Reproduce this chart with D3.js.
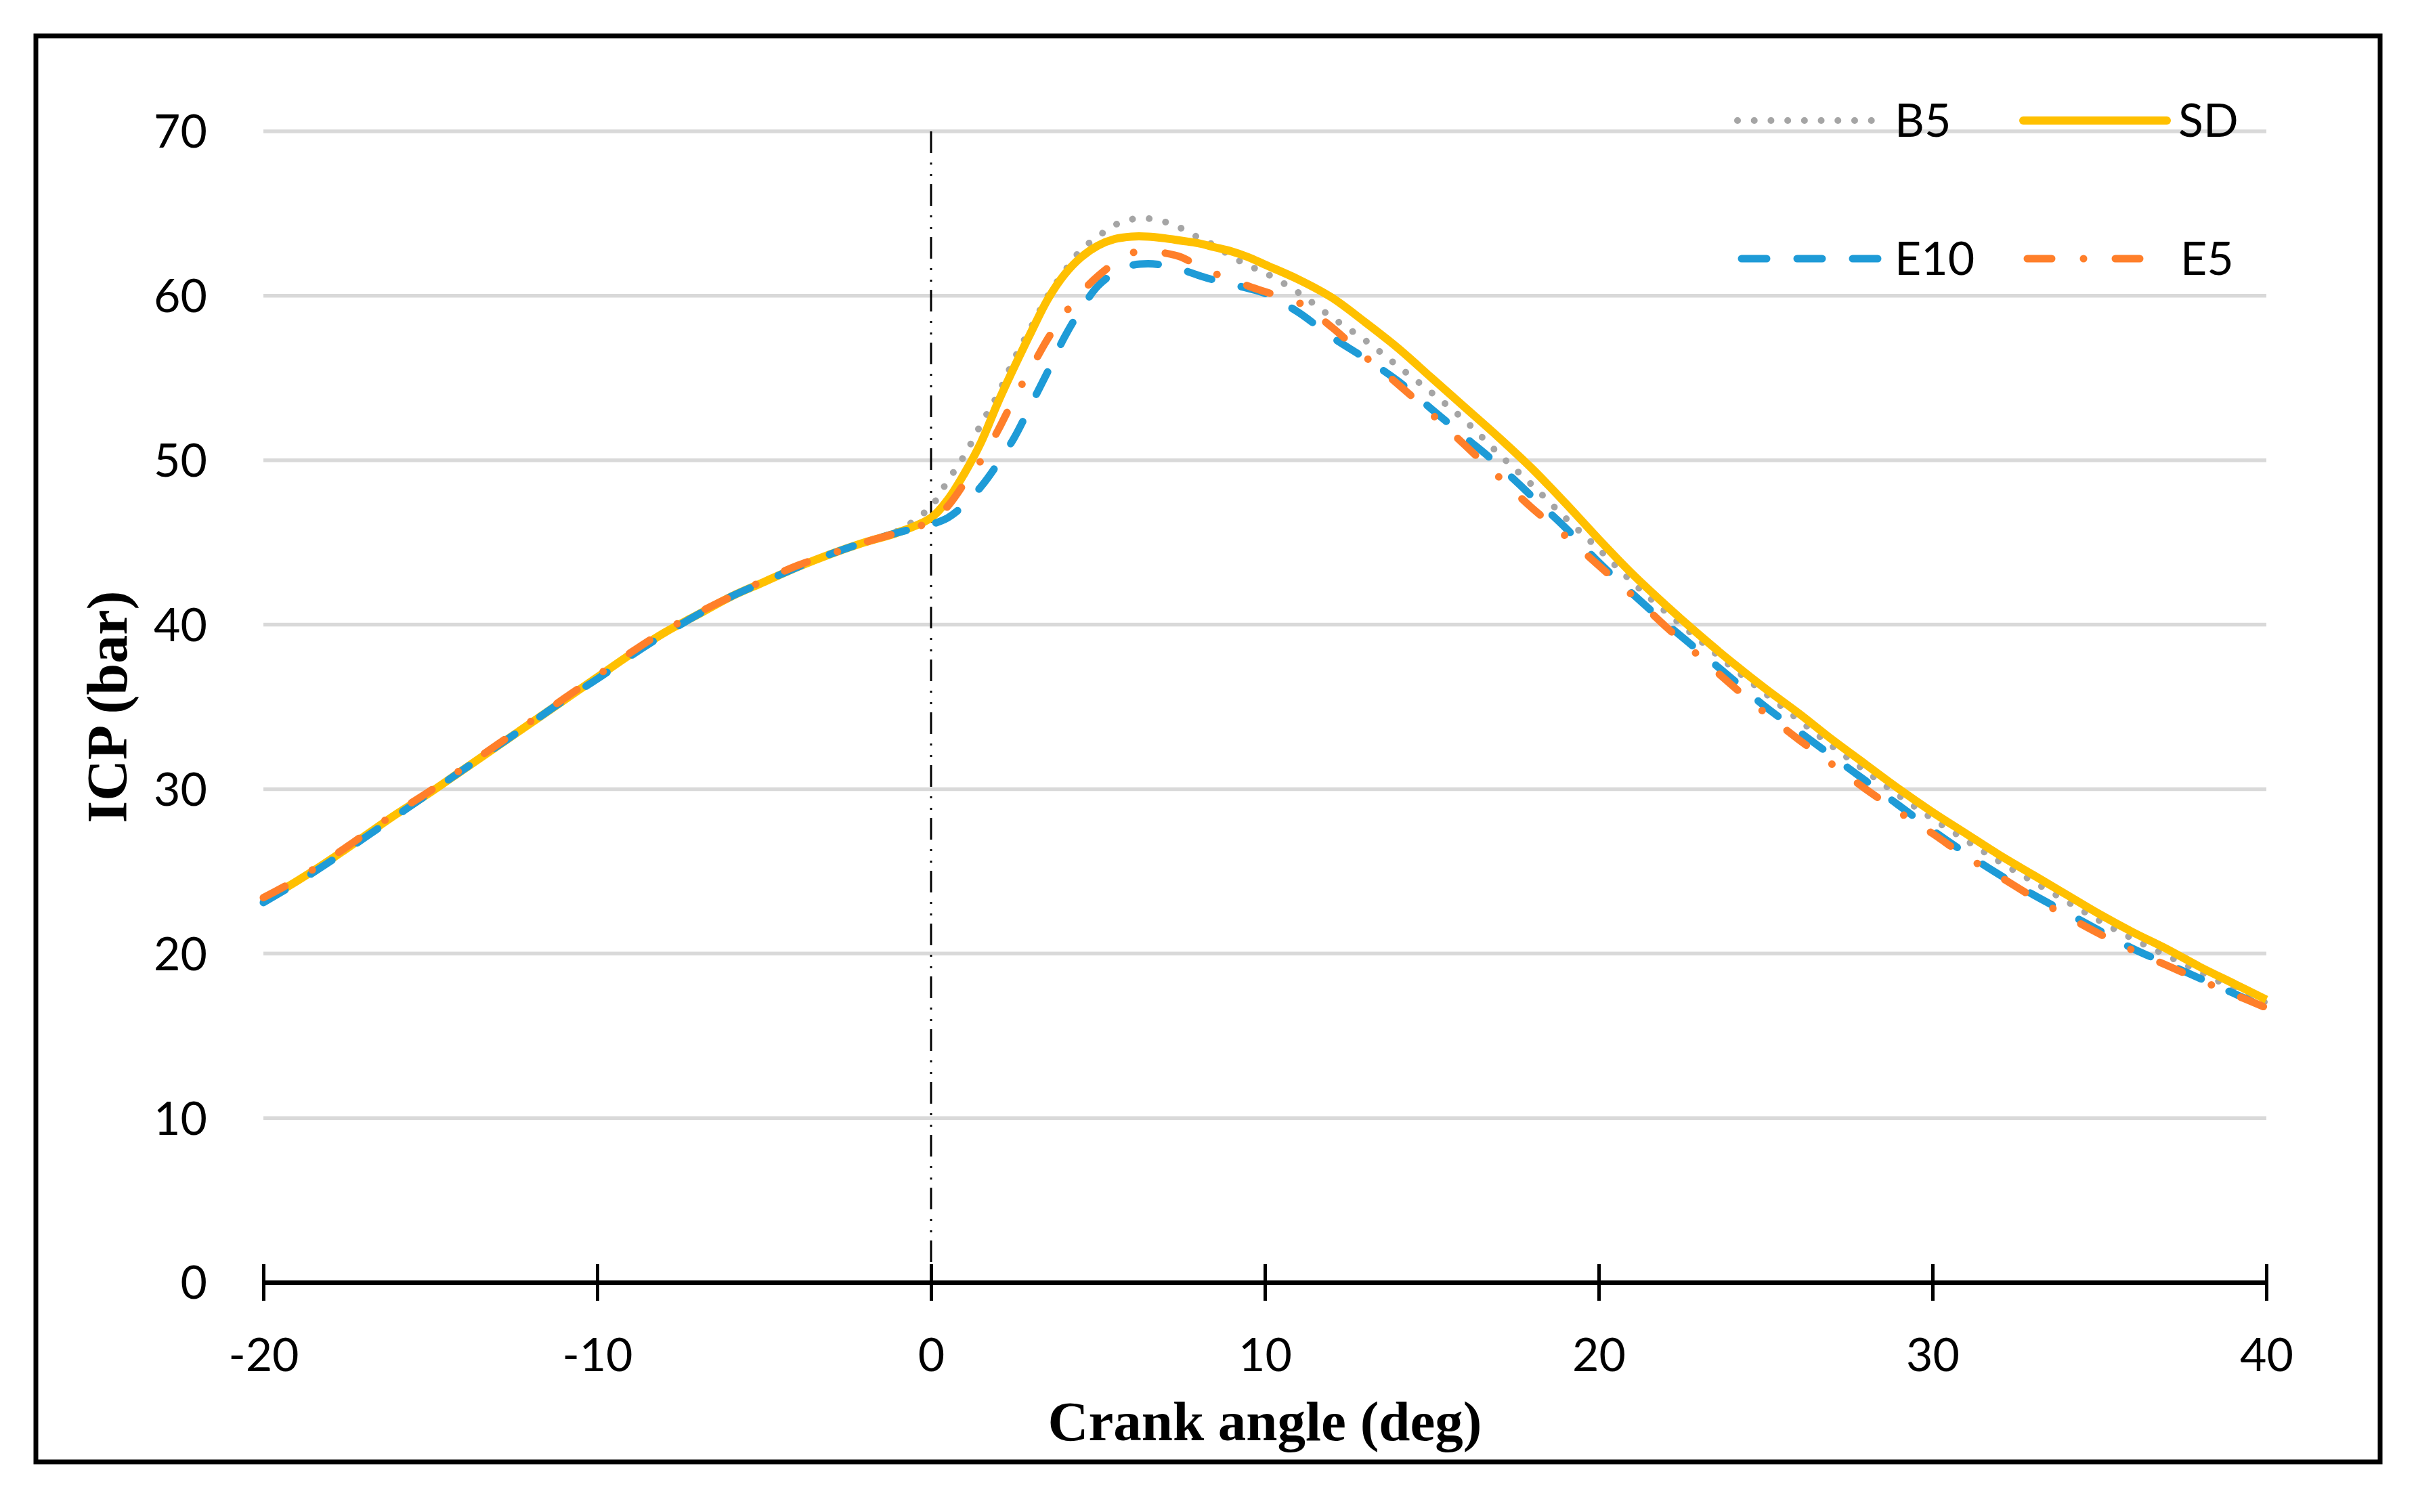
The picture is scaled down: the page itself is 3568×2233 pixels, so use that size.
<!DOCTYPE html>
<html>
<head>
<meta charset="utf-8">
<script src="https://cdn.jsdelivr.net/npm/d3@7"></script>
<style>
  body { margin: 0; background: #fff; }
</style>
</head>
<body>
<div id="wrapper"></div>
<script>
// values (crank angle in deg, ICP in bar)
const angles = [-20, -19, -18, -17, -16, -15, -14, -13, -12, -11, -10, -9, -8, -7, -6, -5, -4, -3, -2, -1, 0,
  0.5, 1, 1.5, 2, 2.5, 3, 3.5, 4, 4.5, 5, 5.5, 6, 6.5, 7, 7.5, 8, 8.5, 9, 9.5, 10,
  11, 12, 13, 14, 15, 16, 17, 18, 19, 20, 21, 22, 23, 24, 25, 26, 27, 28, 29, 30,
  31, 32, 33, 34, 35, 36, 37, 38, 39, 40]

const b5 = [23.2, 24.4, 25.7, 27.1, 28.5, 29.8, 31.2, 32.6, 34.0, 35.4, 36.8, 38.2, 39.5, 40.6, 41.7, 42.6, 43.5, 44.3, 45.0, 45.7, 47.2,
  48.75, 50.3, 52.2, 54.0, 56.2, 58.1, 60.0, 61.5, 62.8, 63.6, 64.3, 64.65, 64.7, 64.5, 64.1, 63.55, 63.05, 62.4, 61.85, 61.4,
  60.2, 58.7, 57.3, 55.7, 54.1, 52.4, 50.4, 48.5, 46.5, 44.6, 42.6, 40.8, 39.1, 37.4, 35.8, 34.2, 32.6, 31.1, 29.6, 28.2,
  26.9, 25.6, 24.4, 23.2, 22.0, 20.9, 19.9, 18.9, 17.9, 17.0]

const sd = [23.2, 24.4, 25.7, 27.1, 28.5, 29.8, 31.2, 32.6, 34.0, 35.4, 36.8, 38.2, 39.5, 40.6, 41.7, 42.6, 43.5, 44.3, 45.0, 45.6, 46.5,
  47.6, 49.2, 51.1, 53.5, 55.7, 57.8, 59.8, 61.3, 62.35, 63.05, 63.45, 63.6, 63.6, 63.5, 63.35, 63.2, 62.95, 62.7, 62.35, 61.9,
  61.0, 59.9, 58.4, 56.8, 55.0, 53.2, 51.4, 49.5, 47.4, 45.2, 43.1, 41.2, 39.4, 37.7, 36.1, 34.6, 33.0, 31.5, 30.0, 28.6,
  27.3, 26.0, 24.8, 23.6, 22.4, 21.3, 20.3, 19.2, 18.2, 17.2]

const e10 = [23.1, 24.3, 25.6, 27.0, 28.4, 29.8, 31.2, 32.6, 34.0, 35.4, 36.7, 38.1, 39.4, 40.6, 41.7, 42.6, 43.5, 44.3, 45.0, 45.6, 46.1,
  46.5, 47.3, 48.4, 49.8, 51.4, 53.4, 55.4, 57.5, 59.2, 60.6, 61.4, 61.85, 61.95, 61.85, 61.6, 61.25, 60.95, 60.7, 60.45, 60.15,
  59.0, 57.5, 56.2, 54.8, 53.1, 51.4, 49.7, 47.8, 45.9, 43.8, 41.9, 40.1, 38.4, 36.7, 35.0, 33.5, 32.0, 30.5, 29.0, 27.5,
  26.1, 24.8, 23.6, 22.5, 21.4, 20.3, 19.4, 18.5, 17.6, 16.7]

const e5 = [23.4, 24.5, 25.8, 27.2, 28.6, 29.9, 31.3, 32.7, 34.1, 35.5, 36.9, 38.3, 39.6, 40.7, 41.7, 42.7, 43.6, 44.3, 45.0, 45.6, 46.3,
  47.2, 48.6, 50.0, 51.8, 53.8, 55.6, 57.4, 58.9, 60.2, 61.2, 62.0, 62.6, 62.7, 62.6, 62.35, 61.8, 61.35, 61.0, 60.6, 60.25,
  59.6, 58.1, 56.3, 54.6, 52.8, 50.9, 49.0, 47.1, 45.4, 43.6, 41.8, 39.9, 38.1, 36.3, 34.6, 33.0, 31.5, 30.0, 28.6, 27.3,
  25.9, 24.7, 23.45, 22.3, 21.2, 20.2, 19.3, 18.4, 17.55, 16.7]

const seriesNames = ["B5", "SD", "E10", "E5"]
const seriesValues = [b5, sd, e10, e5]
const xTicks = [-20, -10, 0, 10, 20, 30, 40]
const yTicks = [0, 10, 20, 30, 40, 50, 60, 70]

function drawLineChart() {
  // 1. chart dimensions
  let dimensions = {
    width: 3568,
    height: 2233,
    margin: { top: 194, right: 221, bottom: 339, left: 389 },
  }
  dimensions.boundedWidth = dimensions.width - dimensions.margin.left - dimensions.margin.right
  dimensions.boundedHeight = dimensions.height - dimensions.margin.top - dimensions.margin.bottom

  const tickFont = "Lato, 'Noto Sans', sans-serif"
  const titleFont = "'Liberation Serif', 'Times New Roman', serif"

  // line styles per series (Excel-like: round dot, solid, dash, dash-dot)
  const styles = {
    B5:  { color: "#A5A5A5", width: 10, dash: "0.01 24.7" },
    SD:  { color: "#FFC000", width: 12, dash: null },
    E10: { color: "#1E9BD7", width: 11, dash: "37 45" },
    E5:  { color: "#FF7F2A", width: 11, dash: "36 47 0.01 47" },
  }

  // 2. scales
  const xScale = d3.scaleLinear()
    .domain([-20, 40])
    .range([0, dimensions.boundedWidth])

  const yScale = d3.scaleLinear()
    .domain([0, 70])
    .range([dimensions.boundedHeight, 0])

  // 3. canvas
  const wrapper = d3.select("#wrapper")
    .append("svg")
      .attr("width", dimensions.width)
      .attr("height", dimensions.height)

  // outer frame
  wrapper.append("rect")
    .attr("x", 53)
    .attr("y", 53)
    .attr("width", 3462)
    .attr("height", 2106)
    .attr("fill", "none")
    .attr("stroke", "#000")
    .attr("stroke-width", 7)

  const bounds = wrapper.append("g")
    .attr("transform", `translate(${dimensions.margin.left}, ${dimensions.margin.top})`)

  // gridlines
  bounds.append("g")
    .selectAll("line")
    .data(yTicks.filter(d => d > 0))
    .join("line")
      .attr("x1", 0)
      .attr("x2", dimensions.boundedWidth)
      .attr("y1", d => yScale(d))
      .attr("y2", d => yScale(d))
      .attr("stroke", "#D9D9D9")
      .attr("stroke-width", 5.5)

  // y tick labels (no axis line in the original)
  bounds.append("g")
    .selectAll("text")
    .data(yTicks)
    .join("text")
      .attr("x", -83)
      .attr("y", d => yScale(d))
      .attr("dy", "0.36em")
      .attr("text-anchor", "end")
      .style("font-family", tickFont)
      .style("font-size", "68px")
      .text(d => d)

  // dash-dot marker at TDC
  bounds.append("line")
    .attr("x1", xScale(0))
    .attr("x2", xScale(0))
    .attr("y1", yScale(70))
    .attr("y2", yScale(0))
    .attr("stroke", "#000")
    .attr("stroke-width", 3)
    .attr("stroke-dasharray", "32 14 3 14 3 12")

  // x axis
  const xAxisGenerator = d3.axisBottom(xScale)
    .tickValues(xTicks)
    .tickSize(0)
    .tickFormat("")

  const xAxis = bounds.append("g")
    .attr("transform", `translate(0, ${dimensions.boundedHeight})`)
    .call(xAxisGenerator)

  xAxis.select(".domain")
    .attr("stroke", "#000")
    .attr("stroke-width", 7)

  xAxis.selectAll(".tick line")
    .attr("y1", -27)
    .attr("y2", 27)
    .attr("stroke", "#000")
    .attr("stroke-width", 5)

  xAxis.selectAll(".tick")
    .append("text")
      .attr("y", 131)
      .attr("text-anchor", "middle")
      .attr("fill", "#000")
      .style("font-family", tickFont)
      .style("font-size", "68px")
      .text(d => d)

  // axis titles
  bounds.append("text")
    .attr("x", dimensions.boundedWidth / 2)
    .attr("y", dimensions.boundedHeight + 233)
    .attr("text-anchor", "middle")
    .style("font-family", titleFont)
    .style("font-weight", "bold")
    .style("font-size", "83px")
    .text("Crank angle (deg)")

  bounds.append("text")
    .attr("transform", `translate(-230, ${dimensions.boundedHeight / 2}) rotate(-90)`)
    .attr("dy", "0.33em")
    .attr("text-anchor", "middle")
    .style("font-family", titleFont)
    .style("font-weight", "bold")
    .style("font-size", "84px")
    .text("ICP (bar)")

  // 4. lines
  const lineGenerator = d3.line()
    .x(d => xScale(d[0]))
    .y(d => yScale(d[1]))
    .curve(d3.curveCatmullRom.alpha(0.5))

  seriesNames.forEach((name, i) => {
    const points = angles.map((a, j) => [a, seriesValues[i][j]])
    const s = styles[name]
    bounds.append("path")
      .attr("d", lineGenerator(points))
      .attr("fill", "none")
      .attr("stroke", s.color)
      .attr("stroke-width", s.width)
      .attr("stroke-linecap", s.dash ? "round" : "butt")
      .attr("stroke-linejoin", "round")
      .attr("stroke-dasharray", s.dash)
  })

  // 5. legend (2 x 2)
  const legendSpots = [
    { x1: 2177, x2: 2377, y: -16 },
    { x1: 2599, x2: 2811, y: -16 },
    { x1: 2183, x2: 2384, y: 188 },
    { x1: 2605, x2: 2771, y: 188 },
  ]
  const legendTextX = [2409, 2828, 2409, 2831]

  const legend = bounds.append("g")
  seriesNames.forEach((name, i) => {
    const s = styles[name]
    const spot = legendSpots[i]
    legend.append("line")
      .attr("x1", spot.x1)
      .attr("x2", spot.x2)
      .attr("y1", spot.y)
      .attr("y2", spot.y)
      .attr("stroke", s.color)
      .attr("stroke-width", s.width)
      .attr("stroke-linecap", "round")
      .attr("stroke-dasharray", s.dash)
    legend.append("text")
      .attr("x", legendTextX[i])
      .attr("y", spot.y)
      .attr("dy", "0.36em")
      .style("font-family", tickFont)
      .style("font-size", "68px")
      .text(name)
  })
}

drawLineChart()
</script>
</body>
</html>
